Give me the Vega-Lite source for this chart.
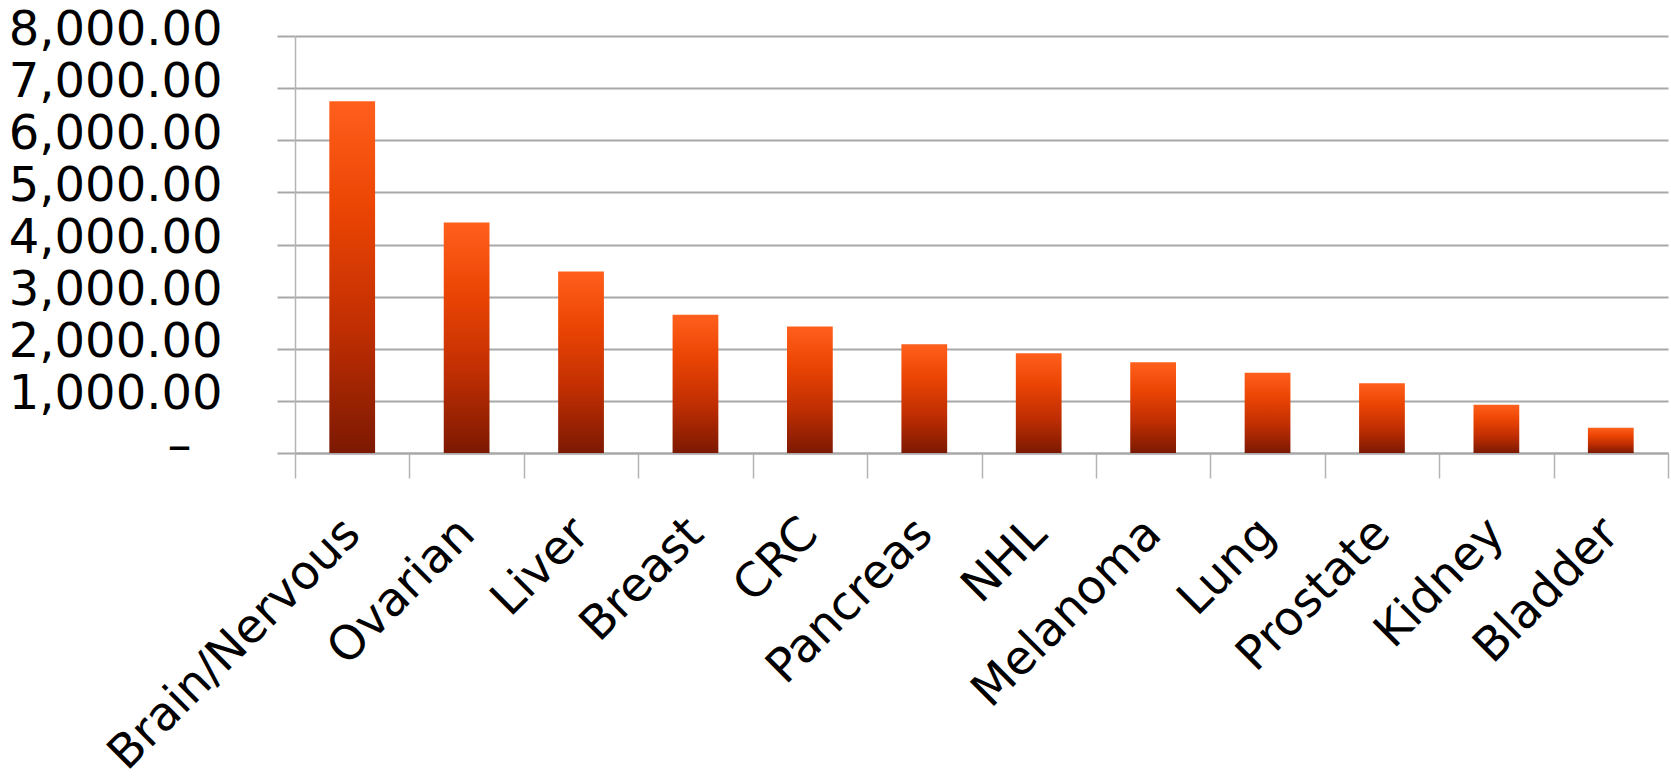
{
  "$schema": "https://vega.github.io/schema/vega-lite/v6.json",
  "autosize": "none",
  "width": 1373,
  "height": 417,
  "padding": {"left": 295, "top": 36, "right": 3, "bottom": 326},
  "background": "white",
  "data": {"values": [
    {"cancer": "Brain/Nervous", "value": 6750},
    {"cancer": "Ovarian", "value": 4420},
    {"cancer": "Liver", "value": 3480},
    {"cancer": "Breast", "value": 2650},
    {"cancer": "CRC", "value": 2425},
    {"cancer": "Pancreas", "value": 2085},
    {"cancer": "NHL", "value": 1915},
    {"cancer": "Melanoma", "value": 1740},
    {"cancer": "Lung", "value": 1540},
    {"cancer": "Prostate", "value": 1340},
    {"cancer": "Kidney", "value": 925},
    {"cancer": "Bladder", "value": 485}
  ]},
  "config": {"view": {"stroke": null}},
  "mark": {
    "type": "bar",
    "width": {"band": 0.4},
    "color": {
      "gradient": "linear", "x1": 0, "y1": 0, "x2": 0, "y2": 1,
      "stops": [
        {"offset": 0, "color": "#ff5f1c"},
        {"offset": 0.3, "color": "#ec4504"},
        {"offset": 0.65, "color": "#c02e02"},
        {"offset": 1, "color": "#7c1902"}
      ]
    }
  },
  "encoding": {
    "x": {
      "field": "cancer", "type": "nominal", "sort": null,
      "scale": {"paddingInner": 0, "paddingOuter": 0},
      "axis": {
        "title": null, "labelAngle": -45, "labelAlign": "right", "labelBaseline": "middle",
        "labelFont": "DejaVu Sans", "labelFontSize": 47, "labelColor": "black", "labelLimit": 0,
        "labelPadding": 48, "tickBand": "extent", "tickSize": 25, "tickColor": "#b4b4b4", "tickWidth": 1.5,
        "domainColor": "#a8a8a8", "domainWidth": 2, "grid": false, "labelOverlap": false
      }
    },
    "y": {
      "field": "value", "type": "quantitative",
      "scale": {"domain": [0, 8000], "nice": false},
      "axis": {
        "title": null, "values": [0,1000,2000,3000,4000,5000,6000,7000,8000],
        "labelExpr": "datum.value == 0 ? '–' : format(datum.value, ',.2f')",
        "labelFont": "DejaVu Sans", "labelFontSize": 48, "labelColor": "black",
        "labelPadding": {"condition": {"test": "datum.value == 0", "value": 86}, "value": 55},
        "labelOffset": -6,
        "labelLimit": 0, "labelOverlap": false,
        "tickSize": 18, "tickColor": "#a8a8a8", "tickWidth": 2,
        "domainColor": "#b4b4b4", "domainWidth": 1.5,
        "grid": true, "gridColor": "#a8a8a8", "gridWidth": 2
      }
    }
  }
}
